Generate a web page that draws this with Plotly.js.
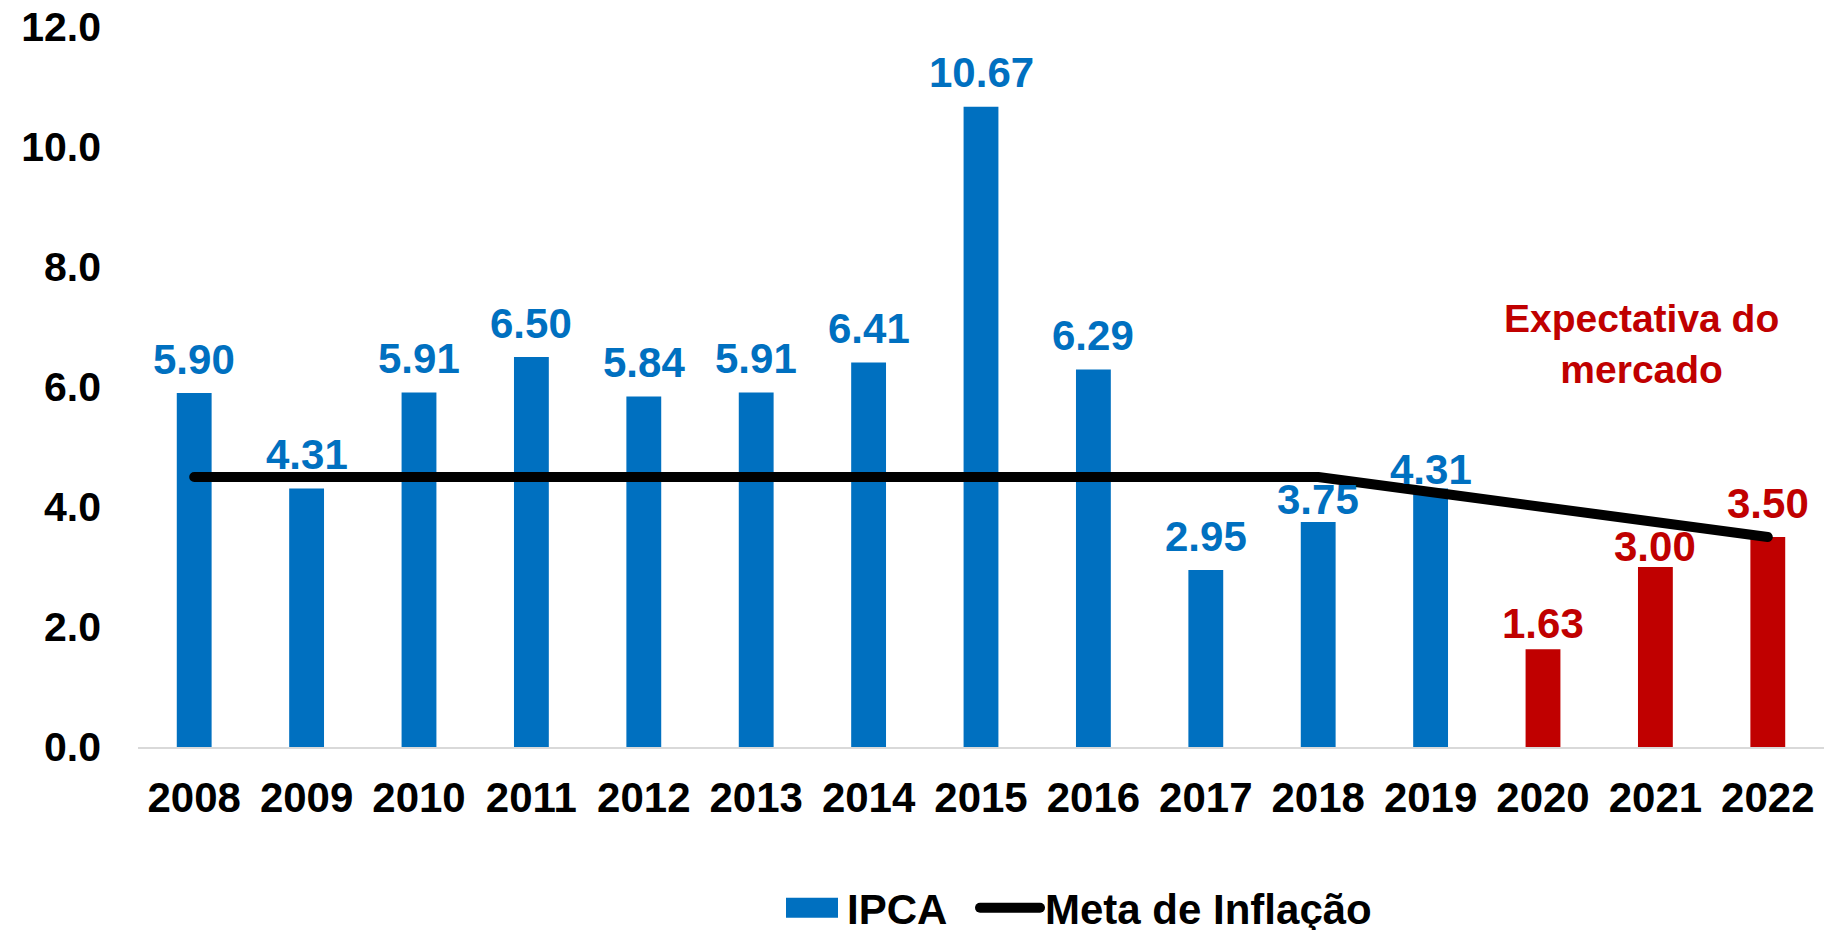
<!DOCTYPE html>
<html>
<head>
<meta charset="utf-8">
<script src="https://cdn.plot.ly/plotly-3.0.1.min.js"></script>
<style>
  html, body { margin: 0; padding: 0; background: #fff; }
  #chart { width: 1832px; height: 930px; }
  .js-line { stroke-linecap: round; stroke-linejoin: round; }
  .legendlines path { stroke-linecap: round; }
</style>
</head>
<body>
<div id="chart"></div>
<script>
// ---- data ----
const years = ['2008','2009','2010','2011','2012','2013','2014','2015','2016','2017','2018','2019','2020','2021','2022'];
const ipca = [5.90, 4.31, 5.91, 6.50, 5.84, 5.91, 6.41, 10.67, 6.29, 2.95, 3.75, 4.31, 1.63, 3.00, 3.50];
const meta = [4.5, 4.5, 4.5, 4.5, 4.5, 4.5, 4.5, 4.5, 4.5, 4.5, 4.5, 4.25, 4.0, 3.75, 3.5];
const isForecast = [false,false,false,false,false,false,false,false,false,false,false,false,true,true,true];
const yTicks = [0, 2, 4, 6, 8, 10, 12];
const yTickLabels = ['0.0','2.0','4.0','6.0','8.0','10.0','12.0'];
const noteText = 'Expectativa do<br>mercado';
const seriesNames = ['IPCA', 'Meta de Inflação'];

// ---- style ----
const BLUE = '#0070C0';
const RED = '#C00000';
const FONT = 'Liberation Sans, Arial, Helvetica, sans-serif';
const defaultLift = 34;
const liftOverride = { '2018': 23, '2019': 19, '2020': 26, '2021': 21 };

const barColors = isForecast.map(f => f ? RED : BLUE);

const traces = [
  {
    type: 'bar',
    name: seriesNames[0],
    x: years,
    y: ipca,
    width: 0.31,
    marker: { color: barColors, line: { width: 0 } },
    legend: 'legend',
    hoverinfo: 'x+y'
  },
  {
    type: 'scatter',
    mode: 'lines',
    name: seriesNames[1],
    x: years,
    y: meta,
    line: { color: '#000000', width: 10 },
    legend: 'legend2',
    hoverinfo: 'x+y'
  }
];

// category axis: annotations use the category index
const labelAnnotations = years.map((yr, i) => ({
  x: i,
  y: ipca[i],
  xref: 'x',
  yref: 'y',
  text: ipca[i].toFixed(2),
  showarrow: false,
  yanchor: 'middle',
  xanchor: 'center',
  yshift: (liftOverride[yr] !== undefined ? liftOverride[yr] : defaultLift),
  font: { family: FONT, size: 42, color: barColors[i], weight: 'bold' }
}));

const noteAnnotation = {
  xref: 'paper', yref: 'paper',
  x: 0.892, y: 0.5597,
  xanchor: 'center', yanchor: 'middle',
  text: noteText,
  showarrow: false,
  align: 'center',
  font: { family: FONT, size: 39, color: RED, weight: 'bold' }
};

const legendFont = { family: FONT, size: 42, color: '#000000', weight: 'bold' };

const layout = {
  width: 1832,
  height: 930,
  margin: { l: 138, r: 8, t: 27, b: 183 },
  paper_bgcolor: '#ffffff',
  plot_bgcolor: '#ffffff',
  font: { family: FONT, size: 42, color: '#000000', weight: 'bold' },
  showlegend: true,
  legend: {
    orientation: 'h',
    xref: 'container', yref: 'container',
    x: 777 / 1832, xanchor: 'left',
    y: 0.0237, yanchor: 'middle',
    font: legendFont,
    itemwidth: 60
  },
  legend2: {
    orientation: 'h',
    xref: 'container', yref: 'container',
    x: 975 / 1832, xanchor: 'left',
    y: 0.0237, yanchor: 'middle',
    font: legendFont,
    itemwidth: 60
  },
  xaxis: {
    type: 'category',
    range: [-0.5, years.length - 0.5],
    showgrid: false,
    zeroline: false,
    showline: true,
    linecolor: '#d9d9d9',
    linewidth: 2,
    ticks: '',
    ticklabelstandoff: 13,
    tickfont: { family: FONT, size: 42, color: '#000000', weight: 'bold' }
  },
  yaxis: {
    range: [0, 12],
    tickvals: yTicks,
    ticktext: yTickLabels,
    showgrid: false,
    zeroline: false,
    showline: false,
    ticks: '',
    ticklabelstandoff: 36,
    tickfont: { family: FONT, size: 41, color: '#000000', weight: 'bold' }
  },
  annotations: labelAnnotations.concat([noteAnnotation])
};

Plotly.newPlot('chart', traces, layout, { displayModeBar: false, staticPlot: true }).then(gd => {
  // widen the bar legend swatch to the reference's flat rectangle
  gd.querySelectorAll('.legend .legendpoints path').forEach(p => {
    const d = p.getAttribute('d') || '';
    if (/^M6,6H-6V-6H6Z$/.test(d)) p.setAttribute('d', 'M26,10H-26V-10H26Z');
  });
});
</script>
</body>
</html>
